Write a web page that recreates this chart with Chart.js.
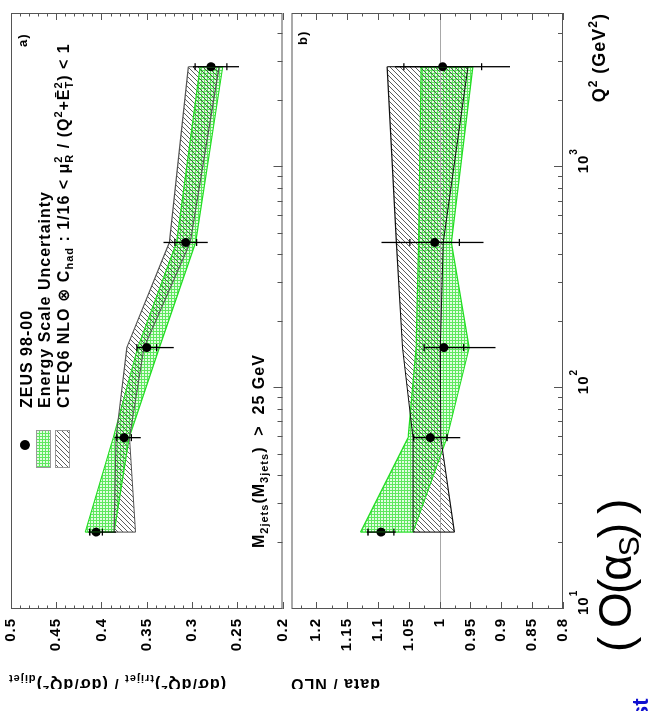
<!DOCTYPE html>
<html>
<head>
<meta charset="utf-8">
<script src="https://cdn.jsdelivr.net/npm/chart.js@4.4.1/dist/chart.umd.min.js"></script>
<style>
  html, body { margin: 0; padding: 0; background: #fff; }
  #page { position: relative; width: 650px; height: 711px; overflow: hidden; background: #fff; }
  /* the figure is laid out upright and turned a quarter turn, like the scanned slide */
  #fig { position: absolute; left: 0; top: 0; width: 689px; height: 650px;
         transform-origin: 0 0; transform: translate(0px, 689px) rotate(-90deg); }
  #fig canvas { position: absolute; left: 0; }
  #chartA { top: 0; }
  #chartB { top: 287px; }
  .slide { position: absolute; left: 0; top: 0; white-space: nowrap; transform-origin: 0 0;
           font-family: 'Liberation Sans', Arial, sans-serif; }
  #alpha { font-size: 46px; line-height: 46px; letter-spacing: -2px; color: #000; transform: translate(592px, 652px) rotate(-90deg); }
  #alpha sub { font-size: 30px; vertical-align: -8px; line-height: 0; }
  #blue { font-size: 22px; line-height: 22px; font-weight: bold; color: #1010d0; transform: translate(630px, 718px) rotate(-90deg); }
</style>
</head>
<body>
<div id="page">
  <div id="fig">
    <canvas id="chartA" width="689" height="287"></canvas>
    <canvas id="chartB" width="689" height="363"></canvas>
  </div>
  <div class="slide" id="alpha">( O(α<sub>S</sub>) )</div>
  <div class="slide" id="blue">st</div>
</div>
<script>
const FONT = "'Liberation Sans', Arial, 'DejaVu Sans', sans-serif";

// Q2 of the bins (GeV^2)
const q2Points = [22.3, 59.7, 152.7, 457, 2856];

// a) trijet / dijet
const ratioData = [0.406, 0.375, 0.350, 0.307, 0.279];
const ratioStat = [0.007, 0.008, 0.011, 0.012, 0.0175];
const ratioTotUp = [0.0085, 0.0107, 0.0114, 0.0246, 0.020];
const ratioTotDown = [0.022, 0.0184, 0.0298, 0.0243, 0.031];
const ratioEscaleHigh = [0.418, 0.387, 0.360, 0.317, 0.291];
const ratioEscaleLow = [0.386, 0.3695, 0.336, 0.296, 0.266];
const ratioNloHigh = [0.386, 0.384, 0.372, 0.325, 0.304];
const ratioNloLow = [0.3625, 0.369, 0.353, 0.302, 0.270];

// b) data / NLO
const dnData = [1.095, 1.015, 0.993, 1.008, 0.995];
const dnStat = [0.021, 0.027, 0.032, 0.040, 0.063];
const dnTotUp = [0.023, 0.027, 0.032, 0.086, 0.077];
const dnTotDown = [0.024, 0.0485, 0.0835, 0.079, 0.109];
const dnEscaleHigh = [1.128, 1.051, 1.038, 1.034, 1.030];
const dnEscaleLow = [1.043, 0.988, 0.952, 0.981, 0.946];
const dnNloHigh = [1.043, 1.043, 1.060, 1.070, 1.085];
const dnNloLow = [0.976, 0.998, 0.999, 0.994, 0.954];

// axis ticks
const yTicksA = [0.2, 0.25, 0.3, 0.35, 0.4, 0.45, 0.5];
const yLabelsA = ['0.2', '0.25', '0.3', '0.35', '0.4', '0.45', '0.5'];
const yTicksB = [0.8, 0.85, 0.9, 0.95, 1, 1.05, 1.1, 1.15, 1.2];
const yLabelsB = ['0.8', '0.85', '0.9', '0.95', '1', '1.05', '1.1', '1.15', '1.2'];
const xDecades = [10, 100, 1000];
const xPowers = ['1', '2', '3'];

function greenFill() {
    const c = document.createElement('canvas');
    c.width = 3; c.height = 3;
    const g = c.getContext('2d');
    g.fillStyle = '#e2fce2';
    g.fillRect(0, 0, 3, 3);
    g.fillStyle = '#5ee85e';
    g.fillRect(0, 0, 3, 1);
    g.fillRect(0, 0, 1, 3);
    return g.createPattern(c, 'repeat');
}

function hatchFill() {
    const c = document.createElement('canvas');
    c.width = 5; c.height = 5;
    const g = c.getContext('2d');
    g.strokeStyle = '#333';
    g.lineWidth = 0.8;
    g.beginPath();
    g.moveTo(-1, 6); g.lineTo(6, -1);
    g.moveTo(-1, 1); g.lineTo(1, -1);
    g.moveTo(4, 6); g.lineTo(6, 4);
    g.stroke();
    return g.createPattern(c, 'repeat');
}

const GREEN = greenFill();
const HATCH = hatchFill();

// text with sub/superscripts: runs are strings or ['sub', t], ['sup', t], ['ss', sub, sup]
function rich(ctx, x, y, runs, size, dry) {
    const small = Math.round(size * 0.66);
    let cx = x;
    const put = (t, px, py, fs) => {
        ctx.font = 'bold ' + fs + 'px ' + FONT;
        if (!dry) ctx.fillText(t, px, py);
        return ctx.measureText(t).width;
    };
    runs.forEach(r => {
        if (typeof r === 'string') {
            cx += put(r, cx, y, size);
        } else if (r[0] === 'sub') {
            cx += put(r[1], cx, y + size * 0.28, small);
        } else if (r[0] === 'sup') {
            cx += put(r[1], cx, y - size * 0.45, small);
        } else {
            const w1 = put(r[1], cx, y + size * 0.28, small);
            const w2 = put(r[2], cx, y - size * 0.45, small);
            cx += Math.max(w1, w2);
        }
    });
    return cx - x;
}

function makePanel(id, o) {
    const pts = arr => q2Points.map((q, i) => ({ x: q, y: arr[i] }));
    const band = { pointRadius: 0, tension: 0 };

    const deco = {
        id: 'deco',
        beforeDraw(chart) {
            chart.ctx.letterSpacing = '1px';
        },
        beforeDatasetsDraw(chart) {
            if (o.unity == null) return;
            const { ctx, chartArea: a, scales: { y } } = chart;
            const py = Math.round(y.getPixelForValue(o.unity)) + 0.5;
            ctx.save();
            ctx.strokeStyle = '#a8a8a8';
            ctx.lineWidth = 1;
            ctx.beginPath();
            ctx.moveTo(a.left, py);
            ctx.lineTo(a.right, py);
            ctx.stroke();
            ctx.restore();
        },
        afterDatasetsDraw(chart) {
            const { ctx, scales: { x, y } } = chart;
            ctx.save();
            // closing edges of the two bands
            [[o.escHi, o.escLo, '#22dd22', 1.2], [o.nloHi, o.nloLo, o.nloEdge, 1.1]].forEach(([hi, lo, col, w]) => {
                ctx.strokeStyle = col;
                ctx.lineWidth = w;
                [0, q2Points.length - 1].forEach(i => {
                    const px = x.getPixelForValue(q2Points[i]);
                    ctx.beginPath();
                    ctx.moveTo(px, y.getPixelForValue(hi[i]));
                    ctx.lineTo(px, y.getPixelForValue(lo[i]));
                    ctx.stroke();
                });
            });
            // error bars: inner ticks = stat, full line = total
            ctx.strokeStyle = '#000';
            ctx.lineWidth = 1.3;
            q2Points.forEach((q, i) => {
                const px = x.getPixelForValue(q);
                const v = o.val[i];
                ctx.beginPath();
                ctx.moveTo(px, y.getPixelForValue(v + o.totUp[i]));
                ctx.lineTo(px, y.getPixelForValue(v - o.totDn[i]));
                [v + o.stat[i], v - o.stat[i]].forEach(s => {
                    const py = y.getPixelForValue(s);
                    ctx.moveTo(px - 3.5, py);
                    ctx.lineTo(px + 3.5, py);
                });
                ctx.stroke();
            });
            ctx.restore();
        },
        afterDraw(chart) {
            const { ctx, chartArea: a, scales: { x, y } } = chart;
            ctx.save();
            ctx.strokeStyle = '#555';
            ctx.lineWidth = 1;
            ctx.strokeRect(a.left + 0.5, a.top + 0.5, a.right - a.left - 1, a.bottom - a.top - 1);
            ctx.beginPath();
            for (let i = 0; i <= o.minorCount; i++) {
                const py = Math.round(y.getPixelForValue(o.min + i * o.minorStep)) + 0.5;
                const len = i % o.majorEvery === 0 ? 7 : 3.5;
                ctx.moveTo(a.left, py); ctx.lineTo(a.left + len, py);
                ctx.moveTo(a.right, py); ctx.lineTo(a.right - len, py);
            }
            xDecades.forEach(d => {
                for (let k = 1; k <= 9; k++) {
                    const v = k * d;
                    if (v >= x.max) break;
                    const px = Math.round(x.getPixelForValue(v)) + 0.5;
                    ctx.moveTo(px, a.bottom);
                    ctx.lineTo(px, a.bottom - (k === 1 ? 9 : 5));
                }
            });
            ctx.stroke();

            ctx.fillStyle = '#000';
            ctx.letterSpacing = '1px';
            ctx.textAlign = 'left';
            ctx.textBaseline = 'alphabetic';
            rich(ctx, o.letterX, o.letterY, [o.letter], 13);

            // y title, turned, ending at the top of the axis
            const w = rich(ctx, 0, 0, o.title, 16, true);
            ctx.save();
            ctx.translate(o.titleX, o.titleEnd);
            ctx.rotate(-Math.PI / 2);
            rich(ctx, -w, 0, o.title, 16);
            ctx.restore();

            if (o.extra) o.extra(chart, ctx);
            ctx.restore();
        }
    };

    return new Chart(document.getElementById(id), {
        type: 'line',
        data: {
            datasets: [
                { data: pts(o.escHi), borderColor: '#22dd22', borderWidth: 1.2, backgroundColor: GREEN, fill: '+1', order: 3, ...band },
                { data: pts(o.escLo), borderColor: '#22dd22', borderWidth: 1.2, fill: false, order: 3, ...band },
                { data: pts(o.nloHi), borderColor: o.nloEdge, borderWidth: 1.1, backgroundColor: HATCH, fill: '+1', order: 2, ...band },
                { data: pts(o.nloLo), borderColor: o.nloEdge, borderWidth: 1.1, fill: false, order: 2, ...band },
                { data: pts(o.val), showLine: false, pointRadius: 4.5, pointBackgroundColor: '#000', pointBorderColor: '#000', pointBorderWidth: 0, order: 0 }
            ]
        },
        options: {
            responsive: false,
            animation: false,
            events: [],
            layout: { padding: o.padding },
            plugins: {
                legend: { display: false },
                tooltip: { enabled: false },
                filler: { drawTime: 'beforeDatasetsDraw' }
            },
            scales: {
                x: { type: 'logarithmic', min: 10, max: 5000, display: false },
                y: {
                    type: 'linear',
                    min: o.min,
                    max: o.max,
                    grid: { display: false, drawTicks: false },
                    border: { display: false },
                    ticks: {
                        padding: 9,
                        color: '#000',
                        font: { family: FONT, size: 15, weight: 'bold' },
                        callback: (v, i) => o.labels[i]
                    },
                    afterBuildTicks: s => { s.ticks = o.ticks.map(v => ({ value: v })); },
                    afterFit: s => {
                        s.width = 80;
                        s.paddingTop = 0;
                        s.paddingBottom = 0;
                    }
                }
            }
        },
        plugins: [deco]
    });
}

makePanel('chartA', {
    val: ratioData, stat: ratioStat, totUp: ratioTotUp, totDn: ratioTotDown,
    escHi: ratioEscaleHigh, escLo: ratioEscaleLow, nloHi: ratioNloHigh, nloLo: ratioNloLow,
    nloEdge: '#555',
    min: 0.2, max: 0.5, ticks: yTicksA, labels: yLabelsA,
    minorStep: 0.01, minorCount: 30, majorEvery: 5,
    padding: { left: 0, right: 13, top: 11, bottom: 4 },
    letter: 'a)', letterX: 642, letterY: 27,
    title: ['(dσ/dQ', ['sup', '2'], ')', ['sub', 'trijet'], ' / (dσ/dQ', ['sup', '2'], ')', ['sub', 'dijet']],
    titleX: 10, titleEnd: 8,
    extra(chart, ctx) {
        // legend
        ctx.beginPath();
        ctx.arc(244, 25, 5, 0, Math.PI * 2);
        ctx.fill();
        ctx.lineWidth = 1;
        ctx.strokeStyle = '#999';
        ctx.fillStyle = GREEN;
        ctx.fillRect(221, 36, 38, 15);
        ctx.strokeRect(221.5, 36.5, 37, 14);
        ctx.fillStyle = HATCH;
        ctx.fillRect(221, 55, 38, 15);
        ctx.strokeRect(221.5, 55.5, 37, 14);
        ctx.fillStyle = '#000';
        rich(ctx, 281, 32, ['ZEUS 98-00'], 16);
        rich(ctx, 281, 50, ['Energy Scale Uncertainty'], 16);
        rich(ctx, 281, 69, ['CTEQ6 NLO ⊗ C', ['sub', 'had'], ' : 1/16 < μ', ['ss', 'R', '2'],
            ' / (Q', ['sup', '2'], '+Ē', ['ss', 'T', '2'], ') < 1'], 16);
        rich(ctx, 141, 264, ['M', ['sub', '2jets'], '(M', ['sub', '3jets'], ')  >  25 GeV'], 16);
    }
});

makePanel('chartB', {
    val: dnData, stat: dnStat, totUp: dnTotUp, totDn: dnTotDown,
    escHi: dnEscaleHigh, escLo: dnEscaleLow, nloHi: dnNloHigh, nloLo: dnNloLow,
    nloEdge: '#111', unity: 1,
    min: 0.8, max: 1.24, ticks: yTicksB, labels: yLabelsB,
    minorStep: 0.025, minorCount: 17, majorEvery: 2,
    padding: { left: 0, right: 13, top: 3, bottom: 87 },
    letter: 'b)', letterX: 644, letterY: 20,
    title: ['data / NLO'],
    titleX: 10, titleEnd: 3,
    extra(chart, ctx) {
        const x = chart.scales.x;
        xDecades.forEach((d, i) => {
            const px = x.getPixelForValue(d) - 6;
            const w = rich(ctx, px, 301, ['10'], 15);
            rich(ctx, px + w, 290, [xPowers[i]], 10);
        });
        const t = ['Q', ['sup', '2'], ' (GeV', ['sup', '2'], ')'];
        const w = rich(ctx, 0, 0, t, 18, true);
        rich(ctx, chart.chartArea.right - w, 318, t, 18);
    }
});
</script>
</body>
</html>
